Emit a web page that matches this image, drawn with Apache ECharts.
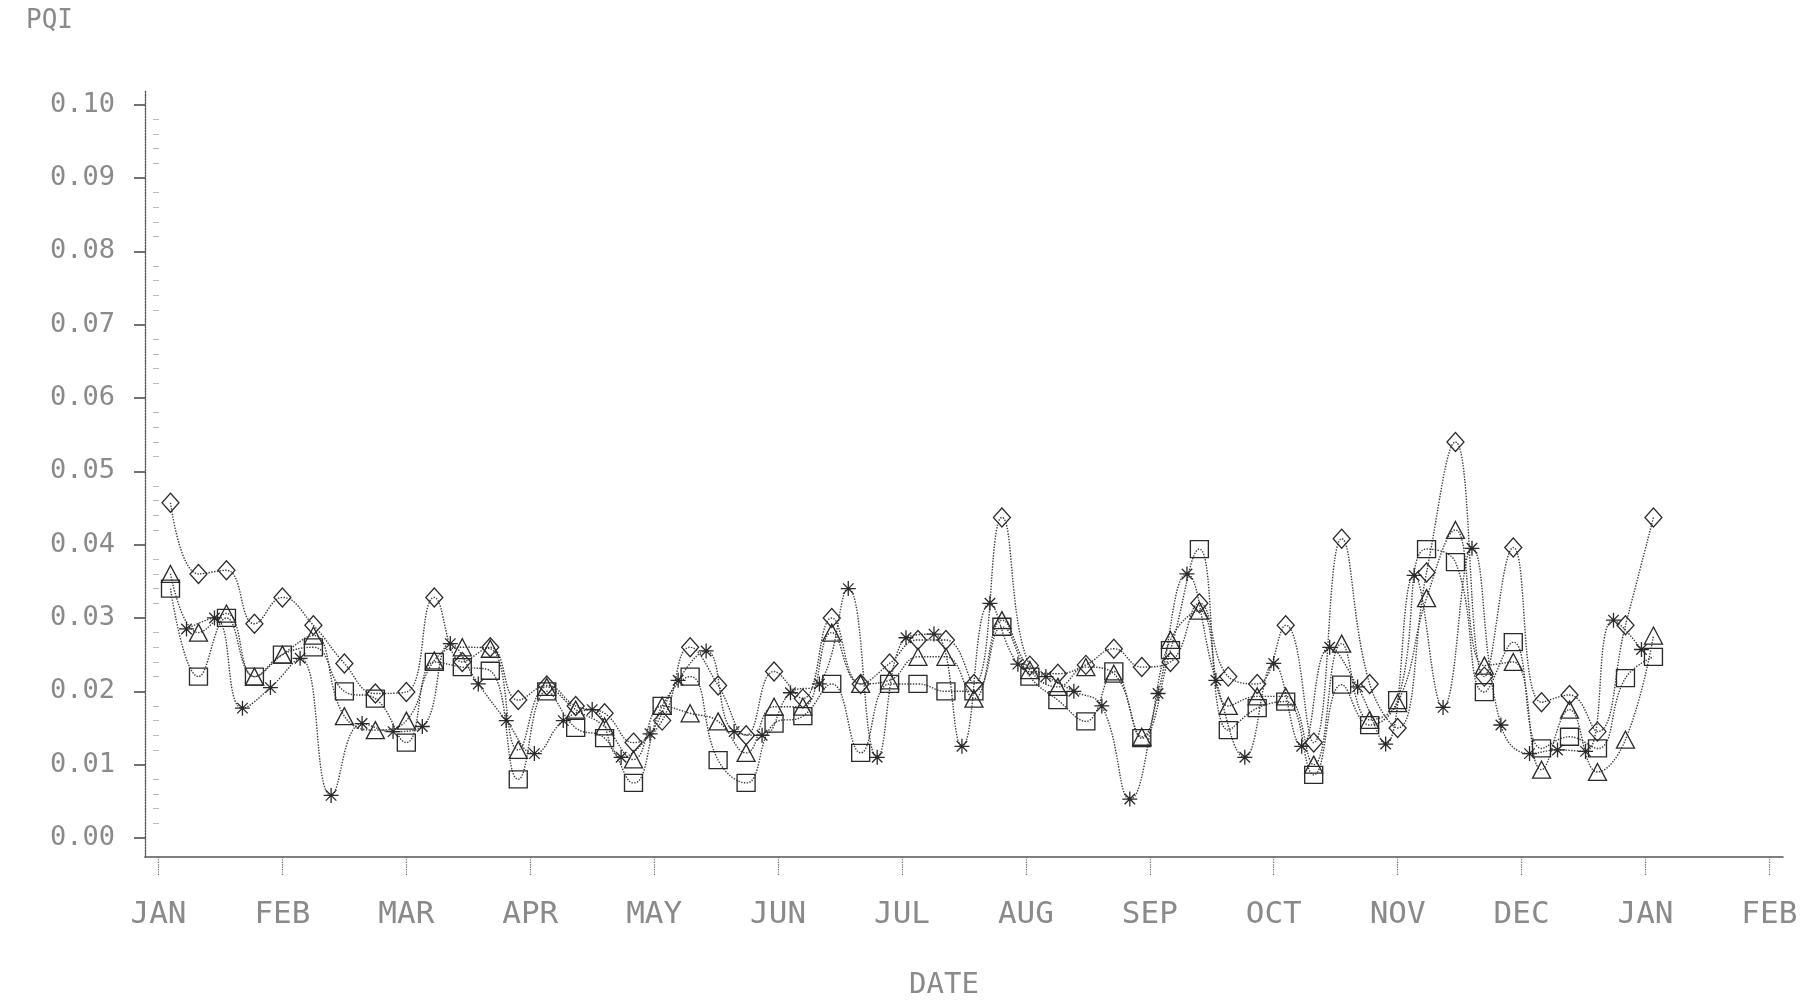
<!DOCTYPE html>
<html>
<head>
<meta charset="utf-8">
<script src="https://cdn.jsdelivr.net/npm/echarts@6/dist/echarts.min.js"></script>
<style>
html,body{margin:0;padding:0;background:#fff;}
#chart{width:1805px;height:1005px;}
</style>
</head>
<body>
<div id="chart"></div>
<script>
// weekly observation dates (diamond, triangle, square series)
const weekDates = [
  '1990-01-04','1990-01-11','1990-01-18','1990-01-25',
  '1990-02-01','1990-02-08','1990-02-15','1990-02-22',
  '1990-03-01','1990-03-08','1990-03-15','1990-03-22','1990-03-29',
  '1990-04-05','1990-04-12','1990-04-19','1990-04-26',
  '1990-05-03','1990-05-10','1990-05-17','1990-05-24','1990-05-31',
  '1990-06-07','1990-06-14','1990-06-21','1990-06-28',
  '1990-07-05','1990-07-12','1990-07-19','1990-07-26',
  '1990-08-02','1990-08-09','1990-08-16','1990-08-23','1990-08-30',
  '1990-09-06','1990-09-13','1990-09-20','1990-09-27',
  '1990-10-04','1990-10-11','1990-10-18','1990-10-25',
  '1990-11-01','1990-11-08','1990-11-15','1990-11-22','1990-11-29',
  '1990-12-06','1990-12-13','1990-12-20','1990-12-27',
  '1991-01-03'
];
// star series dates
const starDates = [
  '1990-01-08','1990-01-15','1990-01-22','1990-01-29',
  '1990-02-05','1990-02-12','1990-02-19','1990-02-26',
  '1990-03-05','1990-03-12','1990-03-19','1990-03-26',
  '1990-04-02','1990-04-09','1990-04-16','1990-04-23','1990-04-30',
  '1990-05-07','1990-05-14','1990-05-21','1990-05-28',
  '1990-06-04','1990-06-11','1990-06-18','1990-06-25',
  '1990-07-02','1990-07-09','1990-07-16','1990-07-23','1990-07-30',
  '1990-08-06','1990-08-13','1990-08-20','1990-08-27',
  '1990-09-03','1990-09-10','1990-09-17','1990-09-24',
  '1990-10-01','1990-10-08','1990-10-15','1990-10-22','1990-10-29',
  '1990-11-05','1990-11-12','1990-11-19','1990-11-26',
  '1990-12-03','1990-12-10','1990-12-17','1990-12-24','1990-12-31'
];
const diamondVals = [
  0.0457,0.0360,0.0365,0.0292,0.0328,0.0290,0.0238,0.0197,0.0199,0.0328,
  0.0240,0.0260,0.0188,0.0208,0.0180,0.0170,0.0130,0.0160,0.0260,0.0208,
  0.0140,0.0227,0.0190,0.0300,0.0210,0.0238,0.0270,0.0270,0.0210,0.0437,
  0.0235,0.0224,0.0236,0.0258,0.0233,0.0240,0.0320,0.0220,0.0210,0.0290,
  0.0130,0.0408,0.0210,0.0150,0.0362,0.0540,0.0220,0.0396,0.0185,0.0195,
  0.0145,0.0290,0.0437
];
const triangleVals = [
  0.0360,0.0280,0.0306,0.0220,0.0250,0.0276,0.0166,0.0147,0.0160,0.0242,
  0.0260,0.0258,0.0120,0.0206,0.0175,0.0152,0.0107,0.0180,0.0170,0.0159,
  0.0116,0.0179,0.0179,0.0280,0.0210,0.0215,0.0247,0.0247,0.0190,0.0297,
  0.0229,0.0206,0.0233,0.0224,0.0138,0.0270,0.0310,0.0180,0.0193,0.0193,
  0.0100,0.0265,0.0161,0.0184,0.0327,0.0420,0.0235,0.0240,0.0093,0.0175,
  0.0090,0.0134,0.0276
];
const squareVals = [
  0.0340,0.0220,0.0300,0.0220,0.0250,0.0260,0.0200,0.0190,0.0130,0.0240,
  0.0233,0.0228,0.0080,0.0200,0.0150,0.0136,0.0075,0.0180,0.0220,0.0106,
  0.0075,0.0156,0.0166,0.0210,0.0116,0.0210,0.0210,0.0200,0.0200,0.0288,
  0.0220,0.0188,0.0159,0.0227,0.0136,0.0256,0.0394,0.0147,0.0177,0.0186,
  0.0086,0.0209,0.0154,0.0188,0.0394,0.0376,0.0199,0.0267,0.0122,0.0138,
  0.0122,0.0218,0.0247
];
const starVals = [
  0.0285,0.0300,0.0177,0.0205,0.0245,0.0058,0.0156,0.0145,0.0152,0.0265,
  0.0210,0.0160,0.0115,0.0160,0.0175,0.0110,0.0142,0.0215,0.0255,0.0145,
  0.0140,0.0198,0.0210,0.0340,0.0110,0.0273,0.0278,0.0125,0.0320,0.0237,
  0.0220,0.0200,0.0180,0.0053,0.0197,0.0360,0.0215,0.0110,0.0238,0.0125,
  0.0260,0.0206,0.0128,0.0358,0.0178,0.0395,0.0154,0.0115,0.0120,0.0118,
  0.0297,0.0257
];
const monthLabels = ['JAN','FEB','MAR','APR','MAY','JUN','JUL','AUG','SEP','OCT','NOV','DEC','JAN','FEB'];
const monthTicks = [0,1,2,3,4,5,6,7,8,9,10,11,12,13];
const yTickVals = [0,0.01,0.02,0.03,0.04,0.05,0.06,0.07,0.08,0.09,0.10];

// months are equally spaced on the axis; a date sits at month index + fraction of that month
function monthPos(s){
  const p = s.split('-').map(Number);
  const dim = new Date(p[0], p[1], 0).getDate();
  return (p[0]-1990)*12 + (p[1]-1) + (p[2]-1)/dim;
}
const minorVals = [];
for (let i = 1; i < 50; i++) { if (i % 5 !== 0) minorVals.push(i*0.002); }

const INK = '#3a3a3a';
const TXT = '#8a8a8a';
const FONT = 'DejaVu Sans Mono';
const STAR = 'path://M10,0L10,20M0,10L20,10M3,3L17,17M3,17L17,3';

function mk(name, dates, vals, symbol, size){
  return {
    name: name, type: 'line', smooth: 0.45,
    data: dates.map((d,i)=>[monthPos(d), vals[i]]),
    symbol: symbol, symbolSize: size, showSymbol: true,
    lineStyle: {type:'dotted', width:1.4, color:INK},
    itemStyle: {color:'rgba(255,255,255,0)', borderColor:'#2a2a2a', borderWidth:1.3},
    emphasis: {disabled:true},
    z: 3
  };
}

const chart = echarts.init(document.getElementById('chart'), null, {renderer:'canvas'});
chart.setOption({
  backgroundColor:'#ffffff',
  animation:false,
  grid:{left:145, right:22, top:90, bottom:144, containLabel:false},
  xAxis:{
    type:'value', min:-0.109, max:13.11,
    name:'DATE', nameLocation:'middle', nameGap:114,
    nameTextStyle:{fontFamily:FONT, fontSize:29, color:TXT, padding:[0,40,0,0]},
    axisLine:{show:true, onZero:false, lineStyle:{color:'#555', width:1.5}},
    axisTick:{show:true, length:18, customValues:monthTicks, lineStyle:{color:'#666', width:1.2, type:'dotted'}},
    axisLabel:{customValues:monthTicks, margin:42, fontFamily:FONT, fontSize:31, color:TXT,
      formatter:(v)=>monthLabels[Math.round(v)]},
    splitLine:{show:false}
  },
  yAxis:[{
    type:'value', min:-0.0026, max:0.102,
    name:'PQI', nameLocation:'end', nameGap:56,
    nameTextStyle:{fontFamily:FONT, fontSize:26, color:TXT, align:'right', padding:[0,72,0,0]},
    axisLine:{show:true, onZero:false, lineStyle:{color:'#555', width:1.4, type:'dotted'}},
    axisTick:{show:true, length:11, customValues:yTickVals, lineStyle:{color:'#444', width:1.5}},
    axisLabel:{customValues:yTickVals, margin:30, fontFamily:FONT, fontSize:27, color:TXT,
      padding:[10,0,0,0], formatter:(v)=>v.toFixed(2)},
    splitLine:{show:false}
  },{
    type:'value', min:-0.0026, max:0.102, position:'left',
    axisLine:{show:false},
    axisTick:{show:true, length:5, customValues:minorVals, lineStyle:{color:'#777', width:1, type:'dotted'}},
    axisLabel:{show:false},
    splitLine:{show:false}
  }],
  series:[
    mk('Diamond', weekDates, diamondVals, 'diamond', [17,19]),
    mk('Triangle', weekDates, triangleVals, 'triangle', [18,17]),
    mk('Square', weekDates, squareVals, 'rect', [18,17]),
    mk('Star', starDates, starVals, STAR, [15,15])
  ]
});
</script>
</body>
</html>
